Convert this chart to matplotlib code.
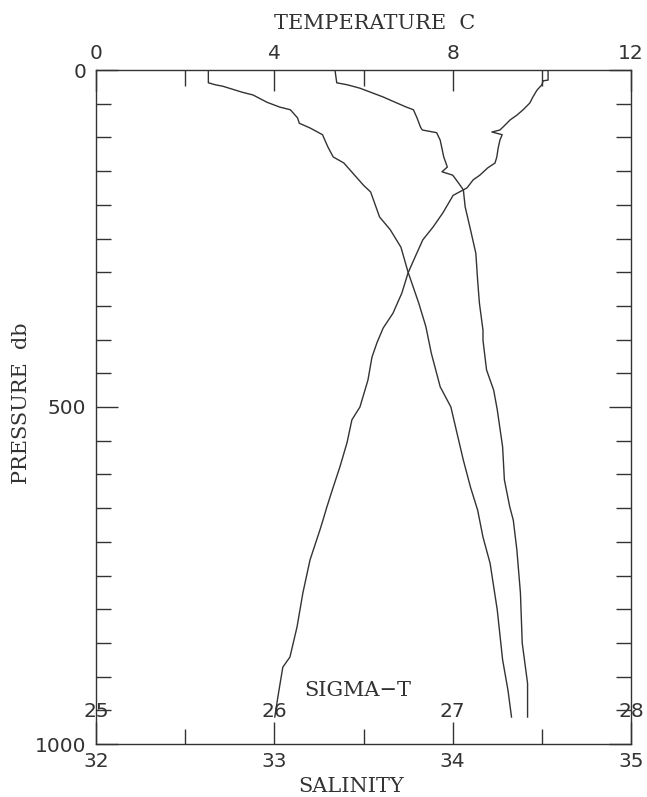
import matplotlib
matplotlib.use("Agg")
import matplotlib.pyplot as plt
from matplotlib.ticker import FixedLocator

# CTD profile (pressure in db)
temp_p = [0, 15, 16, 22, 30, 40, 49, 59, 67, 74, 82, 89, 92, 96, 104, 116, 129, 138, 145, 156,
          163, 175, 186, 212, 233, 252, 277, 301, 331, 361, 383, 405, 426, 460, 500, 519, 553, 589, 619, 648,
          668, 683, 727, 776, 826, 871, 886, 930, 960]
temp_c = [10.14, 10.14, 10.03, 10.00, 9.89, 9.80, 9.73, 9.58, 9.44, 9.29, 9.17, 9.06, 8.88, 9.11, 9.06, 9.02, 8.99, 8.95, 8.79, 8.61,
          8.46, 8.32, 8.01, 7.78, 7.56, 7.33, 7.16, 7.00, 6.86, 6.66, 6.44, 6.30, 6.19, 6.10, 5.92, 5.74, 5.63, 5.47, 5.32, 5.18,
          5.09, 5.02, 4.80, 4.64, 4.51, 4.35, 4.19, 4.08, 4.01]

sal_p = [0, 19, 22, 27, 33, 40, 47, 55, 59, 71, 85, 89, 93, 104, 129, 144, 151, 156, 163, 174,
         178, 203, 237, 272, 312, 346, 386, 401, 445, 475, 504, 559, 608, 648, 668, 712, 776, 850, 910, 960]
sal_s = [33.34, 33.35, 33.41, 33.48, 33.54, 33.61, 33.67, 33.74, 33.78, 33.80, 33.82, 33.83, 33.91, 33.93, 33.95, 33.97, 33.94, 34.00, 34.02, 34.05,
         34.06, 34.07, 34.10, 34.13, 34.14, 34.15, 34.17, 34.17, 34.19, 34.23, 34.25, 34.28, 34.29, 34.32, 34.34, 34.36, 34.38, 34.39, 34.42, 34.42]

sig_p = [0, 19, 22, 24, 33, 37, 48, 55, 59, 71, 79, 86, 96, 114, 129, 138, 153, 171, 181, 218,
         237, 263, 300, 346, 381, 420, 470, 500, 534, 579, 619, 653, 693, 732, 801, 875, 920, 960]
sig_t = [25.63, 25.63, 25.67, 25.71, 25.82, 25.88, 25.96, 26.03, 26.09, 26.13, 26.14, 26.20, 26.27, 26.30, 26.33, 26.39, 26.44, 26.50, 26.54, 26.59,
         26.65, 26.71, 26.75, 26.81, 26.85, 26.88, 26.93, 26.99, 27.02, 27.06, 27.10, 27.14, 27.17, 27.21, 27.25, 27.28, 27.31, 27.33]

temp_ticks = [0, 4, 8, 12]
sal_ticks = [32, 33, 34, 35]
sig_ticks = [25, 26, 27, 28]
pres_ticks = [0, 500, 1000]

ink = '#333333'
serif = 'DejaVu Serif'
sans = 'DejaVu Sans'
px = 0.72  # points per pixel at 100 dpi
nfs = 14.5  # numbers
lfs = 15    # axis titles

fig = plt.figure(figsize=(6.47, 7.97), dpi=100)
ax = fig.add_axes([96/647, 1-744/797, 535/647, 674/797])
ax_t = ax.twiny()
ax_sig = ax.twiny()

for a in (ax_t, ax_sig):
    for s in a.spines.values():
        s.set_visible(False)
for s in ax.spines.values():
    s.set_color(ink)
    s.set_linewidth(1.0)

# pressure axis
ax.set_ylim(1000, 0)
ax.set_yticks(pres_ticks)
ax.set_yticklabels([str(v) for v in pres_ticks], fontfamily=sans, fontsize=nfs, color=ink)
ax.yaxis.set_minor_locator(FixedLocator(list(range(50, 1000, 50))))
ax.tick_params(axis='y', which='both', left=True, right=True, direction='in', color=ink, width=1.0)
ax.tick_params(axis='y', which='major', length=22*px, pad=7)
ax.tick_params(axis='y', which='minor', length=15*px)

# salinity axis (bottom)
ax.set_xlim(32, 35)
ax.set_xticks(sal_ticks)
ax.set_xticklabels([str(v) for v in sal_ticks], fontfamily=sans, fontsize=nfs, color=ink)
ax.xaxis.set_minor_locator(FixedLocator([32.5, 33.5, 34.5]))
ax.tick_params(axis='x', which='both', direction='in', color=ink, width=1.0)
ax.tick_params(axis='x', which='major', length=22*px, pad=6)
ax.tick_params(axis='x', which='minor', length=15*px)

# temperature axis (top)
ax_t.set_xlim(0, 12)
ax_t.set_xticks(temp_ticks)
ax_t.set_xticklabels([str(v) for v in temp_ticks], fontfamily=sans, fontsize=nfs, color=ink)
ax_t.xaxis.set_minor_locator(FixedLocator([2, 6, 10]))
ax_t.tick_params(axis='x', which='both', direction='in', color=ink, width=1.0)
ax_t.tick_params(axis='x', which='major', length=21*px, pad=5)
ax_t.tick_params(axis='x', which='minor', length=16*px)

# sigma-t scale, labels sit inside the frame
ax_sig.set_xlim(25, 28)
ax_sig.xaxis.tick_bottom()
ax_sig.set_xticks(sig_ticks)
ax_sig.set_xticklabels([str(v) for v in sig_ticks], fontfamily=sans, fontsize=nfs, color=ink)
ax_sig.tick_params(axis='x', length=0, pad=-42*px)

ax_t.plot(temp_c, temp_p, color=ink, lw=1.0)
ax.plot(sal_s, sal_p, color=ink, lw=1.0)
ax_sig.plot(sig_t, sig_p, color=ink, lw=1.0)

ax_t.set_xlabel('TEMPERATURE  C', fontfamily=serif, fontsize=lfs, color=ink)
ax_t.xaxis.set_label_coords((375-96)/535, (744-23)/674)
ax_t.xaxis.label.set_va('center')
ax.set_xlabel('SALINITY', fontfamily=serif, fontsize=lfs, color=ink)
ax.xaxis.set_label_coords((351-96)/535, (744-786)/674)
ax.xaxis.label.set_va('center')
ax.set_ylabel('PRESSURE  db', fontfamily=serif, fontsize=lfs, color=ink)
ax.yaxis.set_label_coords((22-96)/535, (744-403)/674)
ax.yaxis.label.set_va('center')
ax.text((358-96)/535, (744-690)/674, 'SIGMA\u2212T', transform=ax.transAxes,
        ha='center', va='center', fontfamily=serif, fontsize=lfs, color=ink)

fig.savefig('out.png', dpi=100)
